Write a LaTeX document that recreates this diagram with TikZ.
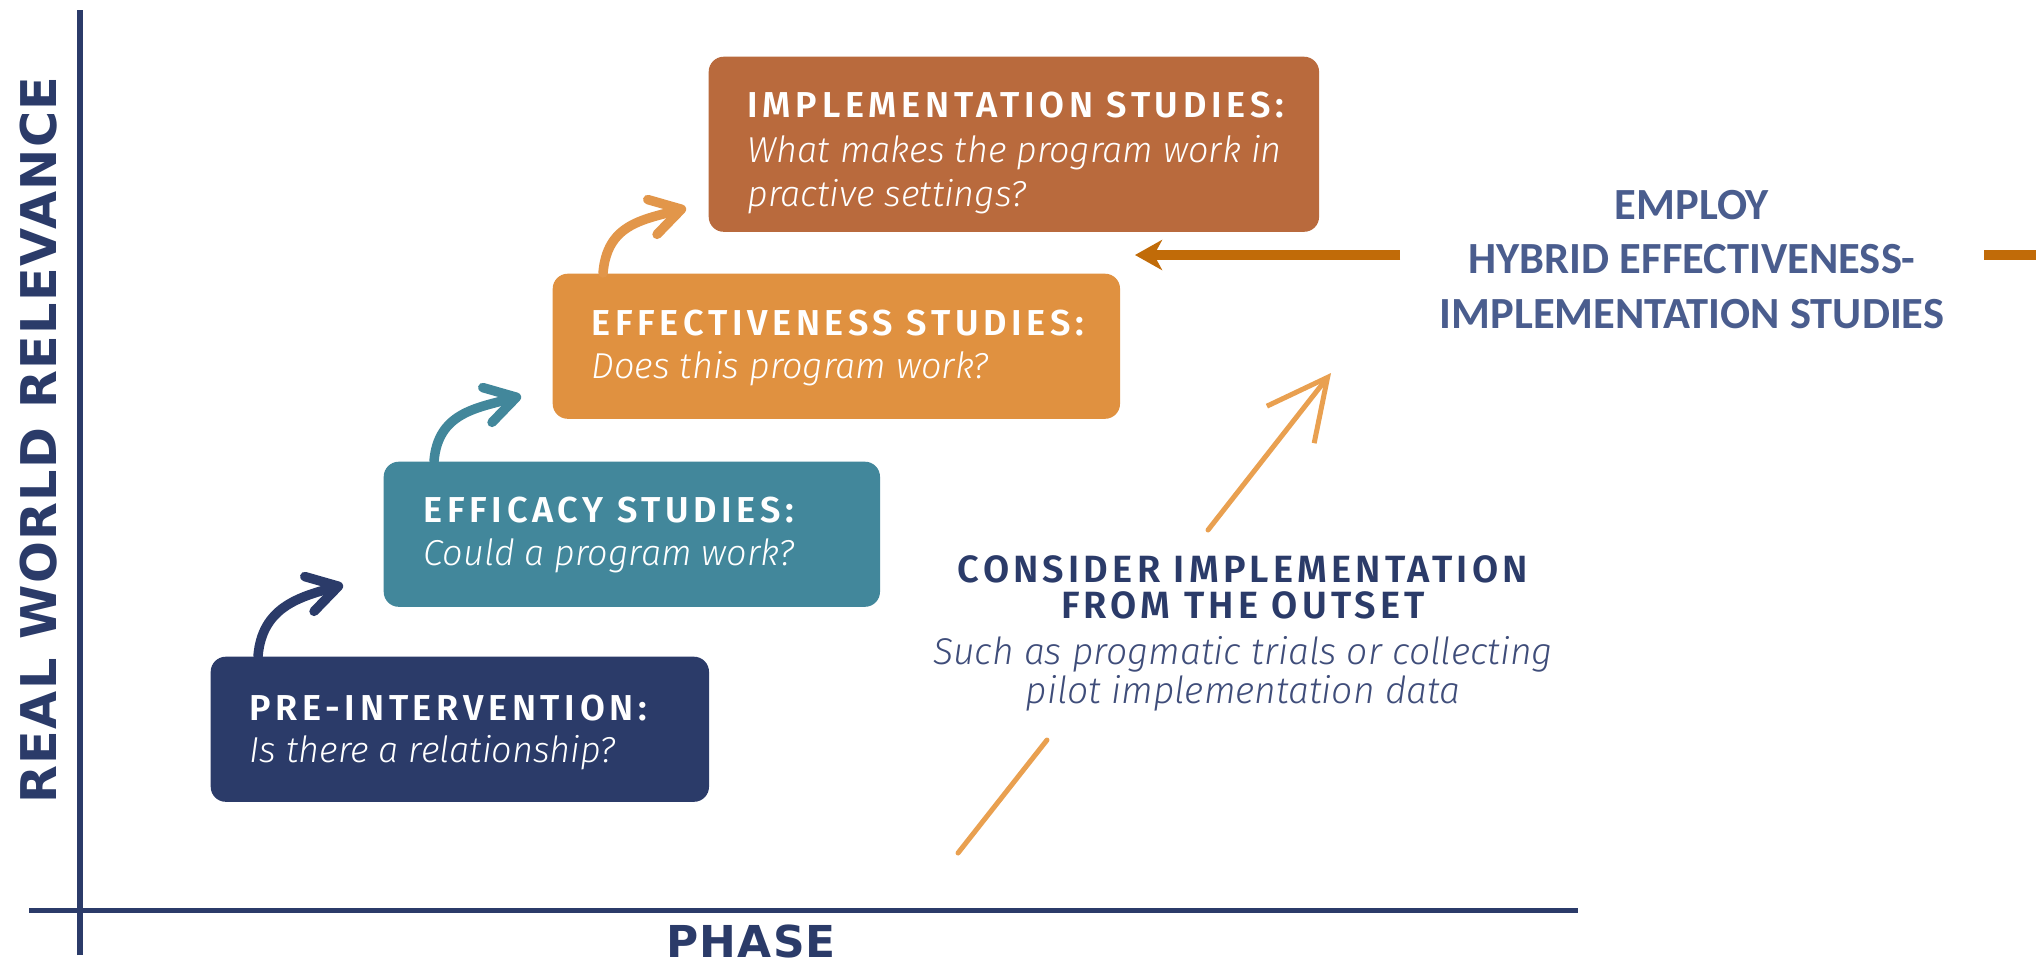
\documentclass[tikz,border=0pt]{standalone}
\usepackage{fontspec}
\setmainfont{Fira Sans}
\newfontfamily\ttlfont{Fira Sans SemiBold}[LetterSpace=13]
\newfontfamily\consfont{Fira Sans SemiBold}[LetterSpace=11]
\newfontfamily\subfont{Fira Sans Light Italic}
\newfontfamily\axfont{DejaVu Sans}[LetterSpace=3]
\newfontfamily\empfont{Carlito}
\usetikzlibrary{arrows.meta}
\definecolor{cNavy}{HTML}{2B3B69}
\definecolor{cTeal}{HTML}{42879B}
\definecolor{cOrange}{HTML}{E09140}
\definecolor{cBrown}{HTML}{B96A3D}
\definecolor{cLight}{HTML}{E9A050}
\definecolor{cDark}{HTML}{C16B08}
\definecolor{cEmp}{HTML}{4A5D8E}
\definecolor{cSub}{HTML}{3F4D7A}
\begin{document}
\begin{tikzpicture}[x=0.01cm,y=-0.01cm,
  box/.style={rounded corners=0.15cm, inner sep=0pt, anchor=north west},
  ttl/.style={text=white, font=\ttlfont\fontsize{10.25pt}{12pt}\selectfont, anchor=base west, inner sep=0pt},
  sub/.style={text=white, font=\subfont\fontsize{10.25pt}{12pt}\selectfont, anchor=base west, inner sep=0pt},
  curv/.style={line width=0.095cm, line cap=round, -{Straight Barb[round,length=0.3cm,width=0.36cm]}},
  axis/.style={draw=cNavy, line width=0.05cm},
  axlab/.style={text=cNavy, font=\axfont\bfseries\fontsize{14pt}{16pt}\selectfont, inner sep=0pt, anchor=base},
  cons/.style={text=cNavy, font=\consfont\fontsize{10.8pt}{12pt}\selectfont, inner sep=0pt, anchor=base},
  consi/.style={text=cSub, font=\subfont\fontsize{10.6pt}{12pt}\selectfont, inner sep=0pt, anchor=base},
  emp/.style={text=cEmp, font=\empfont\bfseries\fontsize{12.66pt}{14pt}\selectfont, inner sep=0pt, anchor=base},
  longarr/.style={draw=cLight, line width=0.05cm, line cap=round}
]
\useasboundingbox (0,0) rectangle (2036,963);
\fill[white] (0,0) rectangle (2036,963);

% axes
\coordinate (yTop) at (80,10);
\coordinate (yBot) at (80,955);
\coordinate (xL) at (29,910);
\coordinate (xR) at (1578,910);
\draw[axis] (yBot) -- (yTop);
\draw[axis] (xL) -- (xR);
\node[axlab, rotate=90] (ylab) at (56,440) {REAL WORLD RELEVANCE};
\node[axlab, font=\axfont\bfseries\fontsize{12.5pt}{14pt}\selectfont] (xlab) at (751,957) {PHASE};

% boxes
\node[box, fill=cNavy, minimum width=4.98cm, minimum height=1.45cm] (pre) at (210,656) {};
\node[ttl] (preT) at (249,720) {PRE-INTERVENTION:};
\node[sub] (preS) at (249,762) {Is there a relationship?};

\node[box, fill=cTeal, minimum width=4.96cm, minimum height=1.45cm] (eff) at (383,461) {};
\node[ttl] (effT) at (423,522) {EFFICACY STUDIES:};
\node[sub] (effS) at (423,565) {Could a program work?};

\node[box, fill=cOrange, minimum width=5.67cm, minimum height=1.45cm] (efv) at (552,273) {};
\node[ttl] (efvT) at (591,335) {EFFECTIVENESS STUDIES:};
\node[sub] (efvS) at (591,378) {Does this program work?};

\node[box, fill=cBrown, minimum width=6.10cm, minimum height=1.75cm] (imp) at (708,56) {};
\node[ttl] (impT) at (747,117) {IMPLEMENTATION STUDIES:};
\node[sub] (impS1) at (747,162) {What makes the program work in};
\node[sub] (impS2) at (747,206) {practive settings?};

% curved arrows
\coordinate (t1) at (343,585);
\coordinate (t2) at (521,396);
\coordinate (t3) at (686,208);
\draw[curv, draw=cNavy] ([xshift=0.48cm]pre.north west) .. controls +(4,-48) and +(-45,12) .. (t1);
\draw[curv, draw=cTeal] ([xshift=0.51cm]eff.north west) .. controls +(4,-48) and +(-45,12) .. (t2);
\draw[curv, draw=cOrange!95!white] ([xshift=0.51cm]efv.north west) .. controls +(4,-48) and +(-45,12) .. (t3);

% consider implementation
\node[cons] (c1) at (1243,582) {CONSIDER IMPLEMENTATION};
\node[cons] (c2) at (1243,618) {FROM THE OUTSET};
\node[consi] (c3) at (1243,664) {Such as progmatic trials or collecting};
\node[consi] (c4) at (1243,703) {pilot implementation data};
\coordinate (la) at (958,853);
\coordinate (lb) at (1047,740);
\coordinate (ua) at (1208,530);
\coordinate (ub) at (1331,373);
\draw[longarr] (la) -- (lb);
\draw[longarr, -{Straight Barb[length=0.6cm,width=0.6cm]}] (ua) -- (ub);

% employ hybrid
\node[emp] (e1) at (1692,219) {EMPLOY};
\node[emp] (e2) at (1692,273) {HYBRID EFFECTIVENESS-};
\node[emp] (e3) at (1692,328) {IMPLEMENTATION STUDIES};
\coordinate (hs) at (1400,255);
\coordinate (he) at (1135,255);
\coordinate (rs) at (1984,255);
\coordinate (re) at (2036,255);
\draw[draw=cDark, line width=0.1cm, -{Stealth[length=0.27cm,width=0.3cm,inset=0.08cm]}] (hs) -- (he);
\draw[draw=cDark, line width=0.1cm] (rs) -- (re);
\end{tikzpicture}
\end{document}
